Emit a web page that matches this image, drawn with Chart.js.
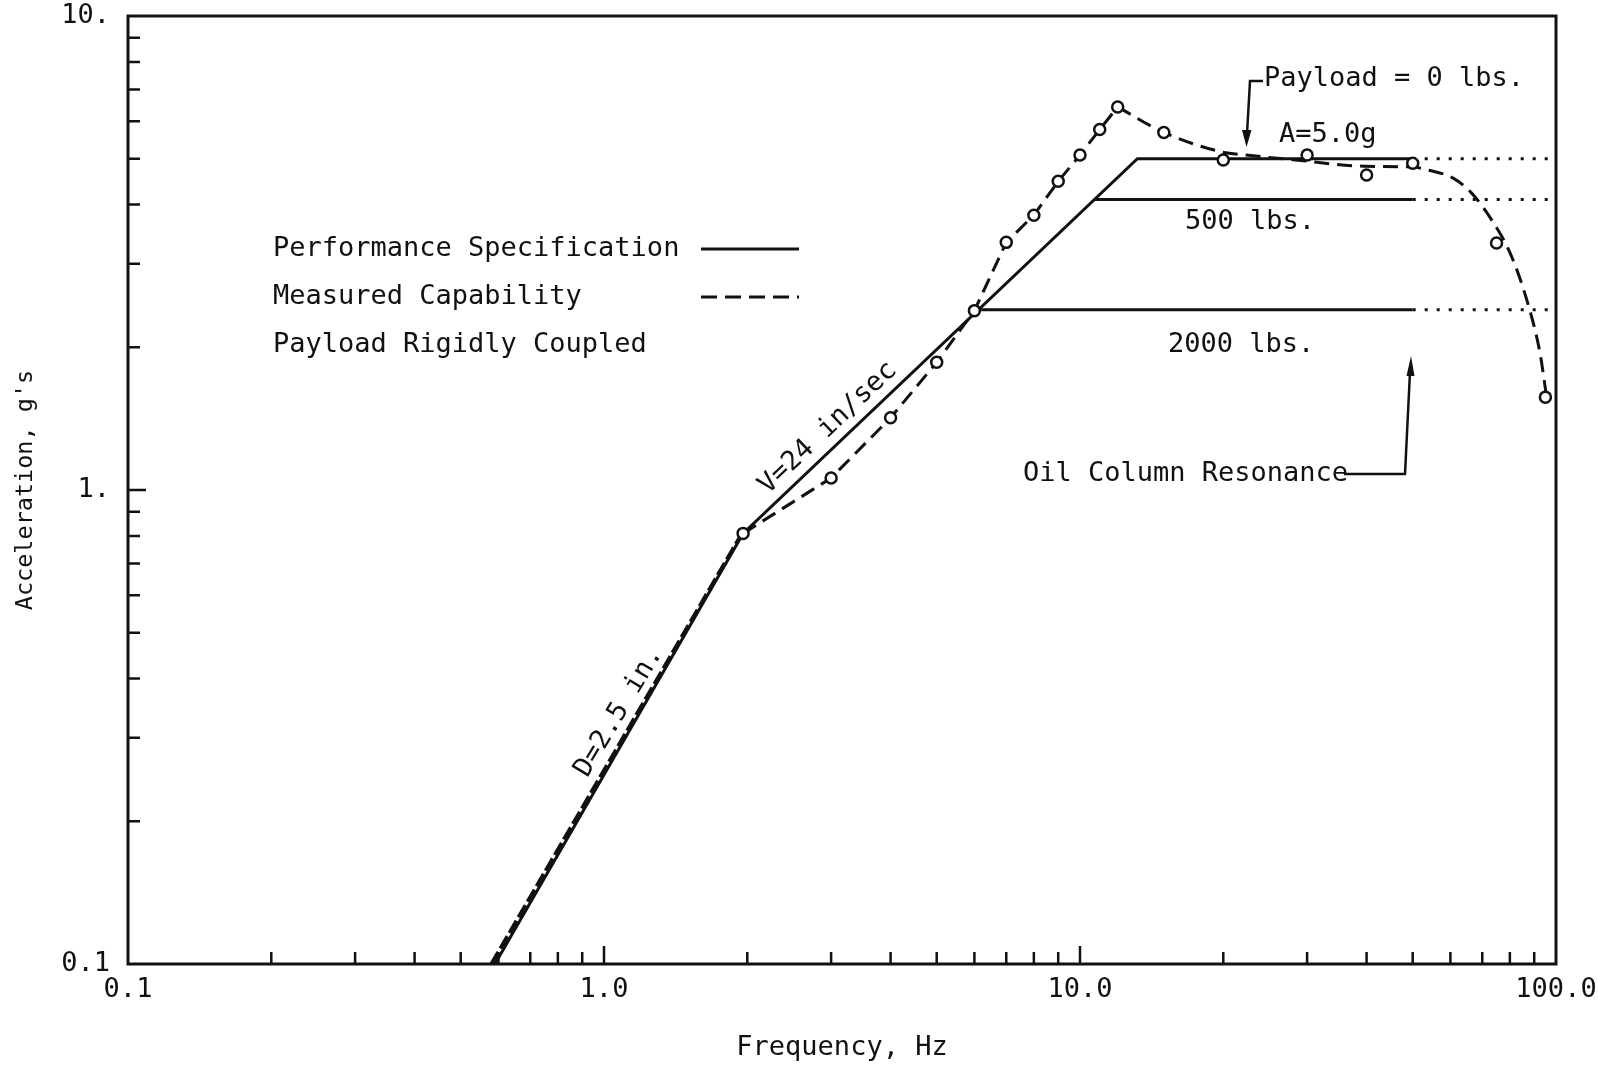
<!DOCTYPE html>
<html>
<head>
<meta charset="utf-8">
<title>Shaker Performance</title>
<script src="https://cdn.jsdelivr.net/npm/chart.js@4.4.1/dist/chart.umd.min.js"></script>
<style>
  html, body { margin: 0; padding: 0; background: #fff; overflow: hidden; }
  canvas { display: block; }
</style>
</head>
<body>
<canvas id="chart" width="1598" height="1069"></canvas>
<script>
// frequency in Hz, acceleration in g's

// performance specification: displacement / velocity / acceleration limits
var specFreq = [0.59, 1.96, 13.2, 50];
var specAccel = [0.1, 0.81, 5.0, 5.0];
var spec500Freq = [10.7, 50];
var spec500Accel = [4.1, 4.1];
var spec2000Freq = [6.0, 50];
var spec2000Accel = [2.4, 2.4];
// dotted continuation of each plateau
var plateauExtFreq = [50, 100];

// measured capability curve
var measLowFreq = [0.58, 1.95];
var measLowAccel = [0.1, 0.81];
var measMidFreq = [1.96, 3, 4, 5, 6, 7, 8, 9, 10, 11, 12];
var measMidAccel = [0.81, 1.06, 1.42, 1.86, 2.39, 3.33, 3.8, 4.48, 5.09, 5.76, 6.43];
var measHighFreq = [12, 15, 19.8, 22.3, 28.3, 39.6, 50, 54.4, 60.8, 66.5, 73.3, 80.1, 86.8, 92.6, 95.3];
var measHighAccel = [6.43, 5.68, 5.17, 5.09, 4.97, 4.82, 4.8, 4.72, 4.55, 4.23, 3.71, 3.16, 2.52, 1.94, 1.6];

// test points (open circles)
var testFreq = [1.96, 3, 4, 5, 6, 7, 8, 9, 10, 11, 12, 15, 20, 30, 40, 50, 75, 95];
var testAccel = [0.81, 1.06, 1.42, 1.86, 2.39, 3.33, 3.8, 4.48, 5.09, 5.76, 6.43, 5.68, 4.97, 5.09, 4.62, 4.89, 3.32, 1.57];

var xTicks = [0.1, 1, 10, 100];
var xTickLabels = ['0.1', '1.0', '10.0', '100.0'];
var yTicks = [0.1, 1, 10];
var yTickLabels = ['0.1', '1.', '10.'];

var ink = '#111';
var font = '"DejaVu Sans Mono", monospace';

function pts(xs, ys) {
    return xs.map(function (x, i) { return { x: x, y: ys[i] }; });
}
function flat(xs, level) {
    return xs.map(function (x) { return { x: x, y: level }; });
}
function line(data, extra) {
    var ds = {
        data: data,
        showLine: true,
        borderColor: ink,
        borderWidth: 3,
        pointRadius: 0,
        tension: 0,
        fill: false,
        order: 2
    };
    for (var k in extra) ds[k] = extra[k];
    return ds;
}
// keep the plot box where the layout padding puts it
function noEdgePadding(scale) {
    scale.paddingTop = 0;
    scale.paddingBottom = 0;
    scale.paddingLeft = 0;
    scale.paddingRight = 0;
}

Chart.defaults.font.family = font;
Chart.defaults.font.size = 27;
Chart.defaults.color = ink;

// frame, inner tick marks, legend and notes
var paperPlugin = {
    id: 'paper',
    afterDraw: function (chart) {
        var ctx = chart.ctx, a = chart.chartArea;
        var xs = chart.scales.x, ys = chart.scales.y;
        ctx.save();
        ctx.strokeStyle = ink;
        ctx.fillStyle = ink;
        ctx.lineWidth = 3;
        ctx.strokeRect(a.left, a.top, a.right - a.left, a.bottom - a.top);

        ctx.lineWidth = 2.5;
        ctx.beginPath();
        [0.1, 1, 10].forEach(function (d) {
            for (var m = 1; m <= 9; m++) {
                var v = d * m;
                if (v <= 0.1 || v >= 100) continue;
                var px = xs.getPixelForValue(v);
                var len = m === 1 ? 18 : 12;
                ctx.moveTo(px, a.bottom);
                ctx.lineTo(px, a.bottom - len);
            }
        });
        [0.1, 1].forEach(function (d) {
            for (var m = 1; m <= 9; m++) {
                var v = d * m;
                if (v <= 0.1 || v >= 10) continue;
                var py = ys.getPixelForValue(v);
                var len = m === 1 ? 18 : 12;
                ctx.moveTo(a.left, py);
                ctx.lineTo(a.left + len, py);
            }
        });
        ctx.stroke();

        ctx.font = '27px ' + font;
        ctx.textBaseline = 'middle';
        ctx.textAlign = 'left';

        // legend
        ctx.fillText('Performance Specification', 273, 249);
        ctx.fillText('Measured Capability', 273, 297);
        ctx.fillText('Payload Rigidly Coupled', 273, 345);
        ctx.lineWidth = 3;
        ctx.beginPath();
        ctx.moveTo(701, 249); ctx.lineTo(799, 249);
        ctx.stroke();
        ctx.setLineDash([16, 8]);
        ctx.beginPath();
        ctx.moveTo(701, 297); ctx.lineTo(799, 297);
        ctx.stroke();
        ctx.setLineDash([]);

        // plateau labels
        ctx.fillText('Payload = 0 lbs.', 1264, 79);
        ctx.fillText('A=5.0g', 1279, 135);
        ctx.fillText('500 lbs.', 1185, 222);
        ctx.fillText('2000 lbs.', 1168, 345);
        ctx.fillText('Oil Column Resonance', 1023, 474);

        // payload arrow
        ctx.lineWidth = 2.5;
        ctx.beginPath();
        ctx.moveTo(1263, 81); ctx.lineTo(1250, 81); ctx.lineTo(1247, 134);
        ctx.stroke();
        ctx.beginPath();
        ctx.moveTo(1246.5, 147); ctx.lineTo(1242, 130); ctx.lineTo(1251.5, 130);
        ctx.closePath(); ctx.fill();

        // oil column resonance arrow
        ctx.beginPath();
        ctx.moveTo(1344, 474); ctx.lineTo(1405, 474); ctx.lineTo(1410, 372);
        ctx.stroke();
        ctx.beginPath();
        ctx.moveTo(1411, 356); ctx.lineTo(1406.5, 376); ctx.lineTo(1414.5, 376);
        ctx.closePath(); ctx.fill();

        // slope labels along the spec line
        ctx.textAlign = 'center';
        ctx.save();
        ctx.translate(828, 428);
        ctx.rotate(-43.5 * Math.PI / 180);
        ctx.fillText('V=24 in/sec', 0, 0);
        ctx.restore();
        ctx.save();
        ctx.translate(619, 712);
        ctx.rotate(-59 * Math.PI / 180);
        ctx.fillText('D=2.5 in.', 0, 0);
        ctx.restore();

        ctx.restore();
    }
};

var chart = new Chart(document.getElementById('chart'), {
    type: 'scatter',
    data: {
        datasets: [
            {
                data: pts(testFreq, testAccel),
                showLine: false,
                pointStyle: 'circle',
                pointRadius: 5.5,
                pointBorderWidth: 2.5,
                pointBorderColor: ink,
                pointBackgroundColor: '#fff',
                order: 0
            },
            line(pts(specFreq, specAccel)),
            line(pts(spec500Freq, spec500Accel)),
            line(pts(spec2000Freq, spec2000Accel)),
            line(flat(plateauExtFreq, specAccel[3]), { borderDash: [3, 9] }),
            line(flat(plateauExtFreq, spec500Accel[1]), { borderDash: [3, 9] }),
            line(flat(plateauExtFreq, spec2000Accel[1]), { borderDash: [3, 9] }),
            line(pts(measLowFreq, measLowAccel), { borderDash: [14, 4], borderWidth: 4, order: 1 }),
            line(pts(measMidFreq, measMidAccel), { borderDash: [15, 8], order: 1 }),
            line(pts(measHighFreq, measHighAccel), { borderDash: [15, 8], cubicInterpolationMode: 'monotone', order: 1 })
        ]
    },
    options: {
        responsive: false,
        animation: false,
        devicePixelRatio: 1,
        layout: { padding: { top: 16, right: 42, left: 0, bottom: 0 } },
        plugins: {
            legend: { display: false },
            tooltip: { enabled: false }
        },
        scales: {
            x: {
                type: 'logarithmic',
                min: 0.1,
                max: 100,
                grid: { display: false, drawTicks: false },
                border: { display: false },
                afterBuildTicks: function (scale) {
                    scale.ticks = xTicks.map(function (v) { return { value: v }; });
                },
                afterFit: function (scale) {
                    scale.height = 105;
                    noEdgePadding(scale);
                },
                ticks: {
                    autoSkip: false,
                    maxRotation: 0,
                    padding: 10,
                    color: ink,
                    callback: function (v) { return xTickLabels[xTicks.indexOf(v)]; }
                },
                title: {
                    display: true,
                    text: 'Frequency, Hz',
                    color: ink,
                    padding: { top: 0, bottom: 5 }
                }
            },
            y: {
                type: 'logarithmic',
                min: 0.1,
                max: 10,
                grid: { display: false, drawTicks: false },
                border: { display: false },
                afterBuildTicks: function (scale) {
                    scale.ticks = yTicks.map(function (v) { return { value: v }; });
                },
                afterFit: function (scale) {
                    scale.width = 128;
                    noEdgePadding(scale);
                },
                ticks: {
                    autoSkip: false,
                    padding: 18,
                    color: ink,
                    callback: function (v) { return yTickLabels[yTicks.indexOf(v)]; }
                },
                title: {
                    display: true,
                    text: "Acceleration, g's",
                    color: ink,
                    font: { size: 23.5 },
                    padding: { top: 12, bottom: 0 }
                }
            }
        }
    },
    plugins: [paperPlugin]
});
</script>
</body>
</html>
